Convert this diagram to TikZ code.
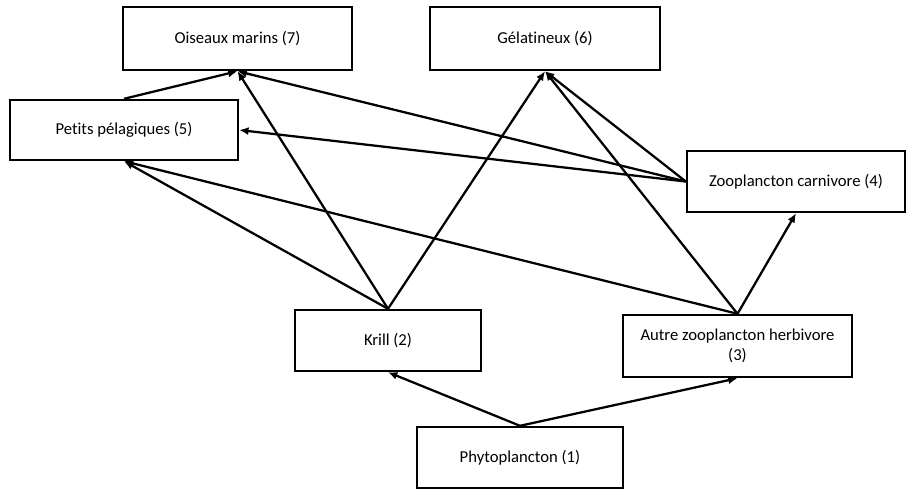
\documentclass[tikz,border=0pt]{standalone}
\usepackage{fontspec}
\setmainfont[Ligatures={NoCommon}]{Carlito}
\usetikzlibrary{arrows.meta}
\tikzset{
    maillon/.style={draw, line width=1.8pt, align=center, inner sep=0pt,
        font=\fontsize{12.5}{14.5}\selectfont},
    flux/.style={line width=1.7pt, -{Latex[length=7pt,width=6pt]}}
}

\begin{document}
\begin{tikzpicture}[x=0.75pt,y=-0.75pt]
        \useasboundingbox (0,0) rectangle (906,489);
        % les maillons du reseau
        \node[maillon, minimum width=171.75pt, minimum height=47.25pt] (oiseaux) at (237.5,38.5) {Oiseaux marins (7)};
        \node[maillon, minimum width=172.5pt, minimum height=47.25pt] (gelat) at (545,38.5) {G\'elatineux (6)};
        \node[maillon, minimum width=171pt, minimum height=45pt] (petits) at (124,130) {Petits p\'elagiques (5)};
        \node[maillon, minimum width=163.5pt, minimum height=45.75pt] (zoocarn) at (796,181.5) {Zooplancton carnivore (4)};
        \node[maillon, minimum width=139.5pt, minimum height=45.75pt] (krill) at (388,340.5) {Krill (2)};
        \node[maillon, minimum width=171.75pt, minimum height=46.5pt] (zooherb) at (737.5,346) {Autre zooplancton herbivore\\(3)};
        \node[maillon, minimum width=154.5pt, minimum height=45.75pt] (phyto) at (520,457.5) {Phytoplancton (1)};
        % les flux
        \draw[flux] (phyto.north) -- (krill.south);
        \draw[flux] (phyto.north) -- (zooherb.south);
        \draw[flux] (krill.north) -- (oiseaux.south);
        \draw[flux] (krill.north) -- (gelat.south);
        \draw[flux] (krill.north) -- (petits.south);
        \draw[flux] (zooherb.north) -- (petits.south);
        \draw[flux] (zooherb.north) -- (gelat.south);
        \draw[flux] (zooherb.north) -- (zoocarn.south);
        \draw[flux] (zoocarn.west) -- (oiseaux.south);
        \draw[flux] (zoocarn.west) -- (petits.east);
        \draw[flux] (zoocarn.west) -- (gelat.south);
        \draw[flux] (petits.north) -- (oiseaux.south);
    \end{tikzpicture}
\end{document}
